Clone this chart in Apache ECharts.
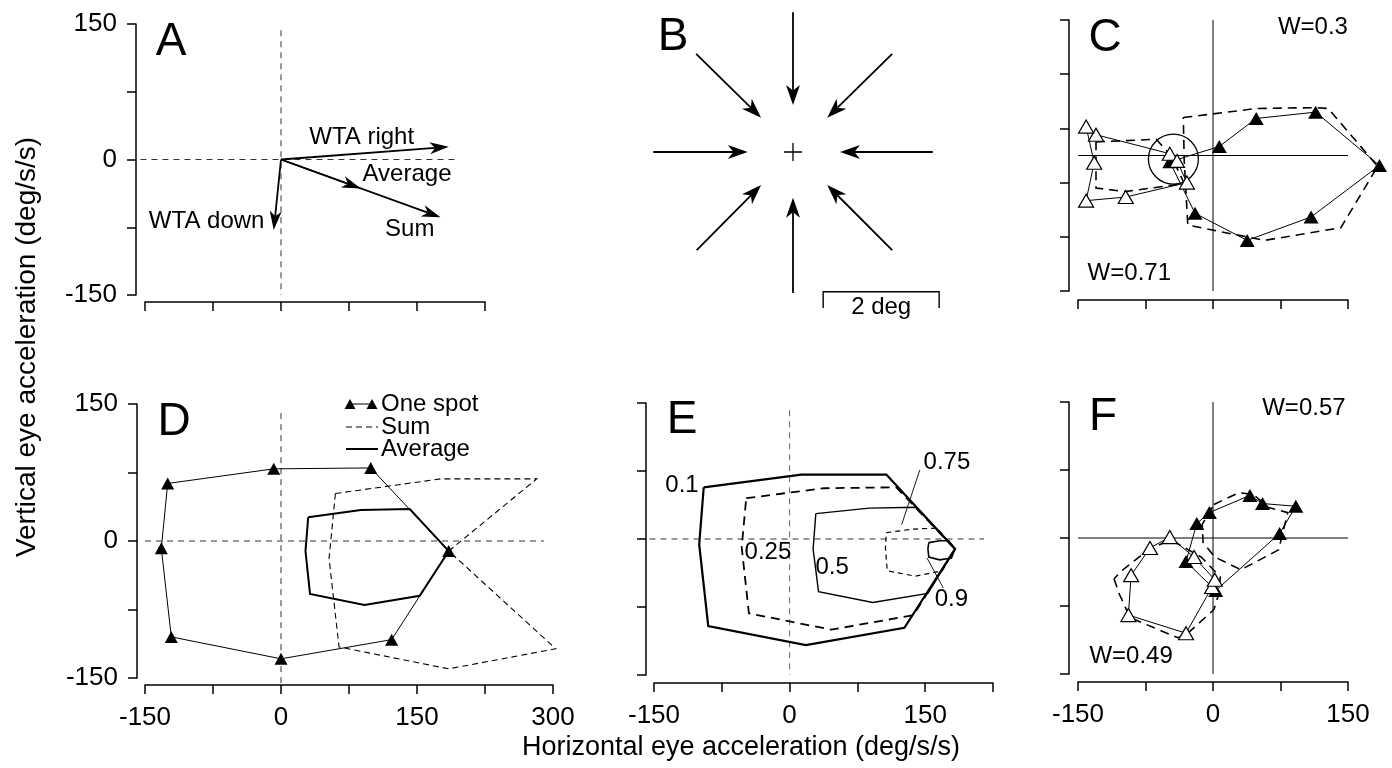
<!DOCTYPE html>
<html>
<head>
<meta charset="utf-8">
<title>Eye acceleration responses to one and two moving spots</title>
<script src="https://cdn.jsdelivr.net/npm/echarts@6.0.0/dist/echarts.min.js"></script>
<style>
html, body { margin: 0; padding: 0; background: #fff; }
#chart { width: 1392px; height: 768px; }
</style>
</head>
<body>
<div id="chart"></div>
<script>
// ---------------- data (deg/s/s unless noted) ----------------

// A: responses to single targets and the two combination rules
const wtaRight = [185, 14];
const wtaDown = [-8, -78];
const sumVector = [176, -64];
const averageVector = [88, -32];

// B: directions of target motion (deg), arrow tails and heads
const stepArrowTails = [[0, 2.41], [1.71, 1.69], [2.41, 0], [1.71, -1.69], [0, -2.43], [-1.66, -1.69], [-2.41, 0], [-1.67, 1.69]];
const stepArrowHeads = [[0, 0.81], [0.59, 0.59], [0.81, 0], [0.59, -0.57], [0, -0.79], [-0.55, -0.57], [-0.78, 0], [-0.55, 0.59]];
const scaleBarDeg = [[0.52, -2.69], [0.52, -2.41], [2.52, -2.41], [2.52, -2.69]];

// C: measured two-spot responses (triangles) and weighted-sum predictions (dashed)
const cFilled = [[-48, -7], [7, 10], [48, 41], [114, 48], [185, -11], [109, -68], [38, -94], [-20, -64]];
const cFilledFit = [[-33, 42], [48, 52], [115, 53], [128, 52], [183, -12], [142, -80], [57, -94], [-28, -77], [-32, -5]];
const cOpen = [[-48, 2], [-130, 23], [-141, 32], [-132, -8], [-141, -50], [-97, -46], [-29, -30], [-40, -6]];
const cOpenFit = [[-130, 15], [-63, 18], [-46, -1], [-32, -31], [-98, -40], [-130, -36], [-130, -27]];
const cCircleCenter = [-44, -4];

// D: one-spot responses and the sum / average predictions
const dOneSpot = [[-125, 63], [-8, 79], [99, 80], [185, -11], [122, -108], [0, -129], [-121, -105], [-132, -8]];
const dSum = [[60, 52], [176, 68], [282, 68], [185, -11], [303, -118], [185, -140], [64, -116], [53, -19]];
const dAverage = [[30, 26], [88, 34], [142, 35], [185, -11], [153, -60], [92, -70], [32, -58], [27, -11]];

// E: weighted-average contours
const eContourLevels = ['0.1', '0.25', '0.5', '0.75', '0.9'];
const eW10 = [[-95, 57], [13, 71], [107, 71], [183, -11], [127, -98], [18, -117], [-90, -96], [-100, -6]];
const eW25 = [[-48, 45], [38, 56], [118, 57], [183, -11], [137, -84], [46, -100], [-45, -82], [-53, -9]];
const eW50 = [[29, 28], [88, 34], [140, 35], [183, -11], [153, -60], [92, -70], [32, -58], [26, -11]];
const eW75 = [[107, 7], [137, 11], [163, 12], [183, -11], [169, -35], [139, -41], [108, -35], [106, -10]];
const eW90 = [[154, -4], [166, -2], [176, -2], [183, -11], [179, -21], [166, -23], [154, -20], [153, -11]];

// F: second example, measured (triangles) and fitted (dashed)
const fFilled = [[-4, 28], [41, 47], [55, 38], [92, 35], [74, 5], [3, -58], [-30, -26], [-18, 16]];
const fFilledFit = [[1, 37], [29, 50], [45, 48], [61, 34], [83, 28], [73, -13], [31, -35], [2, -21], [-11, -5], [-12, 15]];
const fOpen = [[-48, 1], [-70, -11], [-91, -41], [-94, -85], [-30, -105], [-1, -54], [2, -46], [-21, -21]];
const fOpenFit = [[-110, -45], [-104, -62], [-92, -88], [-39, -110], [-28, -105], [1, -79], [7, -60], [8, -43], [-13, -21], [-47, -2], [-72, -13], [-100, -35]];

// text annotations: [text, x, y] in each panel's data units
const notesA = [['WTA right', 89, 25], ['Average', 139, -17], ['Sum', 142, -77], ['WTA down', -82, -68]];
const notesB = [['2 deg', 1.52, -2.68]];
const notesC = [['W=0.3', 111, 142], ['W=0.71', -93, -131]];
const notesE = [[eContourLevels[0], -119, 59], [eContourLevels[1], -24, -15], [eContourLevels[2], 47, -31], [eContourLevels[3], 174, 84], [eContourLevels[4], 179, -67]];
const leadersE = [[[144, 76], [124, 16]], [[152, -21], [170, -54]]];
const notesF = [['W=0.57', 101, 143], ['W=0.49', -91, -131]];

// ---------------- drawing helpers ----------------
const FONT = '"Liberation Sans", Arial, Helvetica, sans-serif';
const INK = '#000';

const gridBoxes = [
  { left: 145, top: 24, width: 340, height: 271 },   // A
  { left: 648, top: 7, width: 290, height: 319 },    // B
  { left: 1078, top: 20, width: 270, height: 271 },  // C
  { left: 145, top: 404, width: 408, height: 274 },  // D
  { left: 654, top: 403, width: 339, height: 272 },  // E
  { left: 1078, top: 402, width: 270, height: 272 }  // F
];

function every150(v) { return Math.round(v) % 150 === 0 ? String(v) : ''; }

function xAxisFor(gi, min, max, offset, withLabels) {
  return {
    type: 'value', gridIndex: gi, min: min, max: max, interval: 75, offset: offset,
    axisLine: { show: true, onZero: false, lineStyle: { color: INK, width: 1.5 } },
    axisTick: { show: true, inside: false, length: 9, lineStyle: { color: INK, width: 1.5 } },
    axisLabel: { show: withLabels, formatter: every150, margin: 20, color: INK, fontSize: 26, fontFamily: FONT,
      showMinLabel: true, showMaxLabel: true },
    splitLine: { show: false }
  };
}

function yAxisFor(gi, offset, withLabels, tickValues) {
  const ax = {
    type: 'value', gridIndex: gi, min: -150, max: 150, interval: 75, offset: offset,
    axisLine: { show: true, onZero: false, lineStyle: { color: INK, width: 1.5 } },
    axisTick: { show: true, inside: false, length: 9, lineStyle: { color: INK, width: 1.5 } },
    axisLabel: { show: withLabels, formatter: every150, margin: 19, color: INK, fontSize: 26, fontFamily: FONT,
      showMinLabel: true, showMaxLabel: true },
    splitLine: { show: false }
  };
  if (tickValues) ax.axisTick.customValues = tickValues;
  return ax;
}

function hiddenAxis(gi, min, max) {
  return { type: 'value', gridIndex: gi, min: min, max: max, show: false, splitLine: { show: false } };
}

// open or closed polyline through data points; not clipped to the plot box
function path(gi, pts, lineStyle, closed, z) {
  const ring = closed ? pts.concat([pts[0]]) : pts.slice();
  const st = Object.assign({ color: INK, width: 1 }, lineStyle);
  return {
    type: 'custom', xAxisIndex: gi, yAxisIndex: gi, clip: false, silent: true, z: z || 2,
    encode: { x: 0, y: 1 },
    data: ring,
    renderItem: function (params, api) {
      if (params.dataIndex !== 0) return null;
      return {
        type: 'polyline',
        shape: { points: ring.map(p => api.coord(p)) },
        style: { stroke: st.color, lineWidth: st.width, lineDash: st.type || null, fill: null, lineJoin: 'miter' }
      };
    }
  };
}

function triangles(gi, pts, filled, size) {
  return {
    type: 'scatter', xAxisIndex: gi, yAxisIndex: gi, data: pts, symbol: 'triangle',
    symbolSize: size, clip: false, silent: true, z: filled ? 5 : 6,
    itemStyle: filled ? { color: INK, opacity: 1 } : { color: '#fff', borderColor: INK, borderWidth: 1.2, opacity: 1 }
  };
}

function notes(gi, items, fontSize) {
  return {
    type: 'scatter', xAxisIndex: gi, yAxisIndex: gi, symbolSize: 1, clip: false, silent: true, z: 8,
    itemStyle: { color: 'transparent', opacity: 1 },
    data: items.map(t => ({ name: t[0], value: [t[1], t[2]] })),
    label: { show: true, position: 'inside', formatter: '{b}', color: INK, opacity: 1, fontSize: fontSize, fontFamily: FONT }
  };
}

// straight arrows with a notched, filled head ending exactly at the head point
function arrows(gi, tails, heads, headLen, headHalf, width) {
  return {
    type: 'custom', xAxisIndex: gi, yAxisIndex: gi, clip: false, silent: true, z: 4,
    encode: { x: [0, 2], y: [1, 3] },
    data: tails.map((t, i) => [t[0], t[1], heads[i][0], heads[i][1]]),
    renderItem: function (params, api) {
      const p0 = api.coord([api.value(0), api.value(1)]);
      const p1 = api.coord([api.value(2), api.value(3)]);
      const dx = p1[0] - p0[0], dy = p1[1] - p0[1];
      const len = Math.hypot(dx, dy);
      const ux = dx / len, uy = dy / len, nx = -uy, ny = ux;
      const bx = p1[0] - ux * headLen, by = p1[1] - uy * headLen;
      const notch = [p1[0] - ux * headLen * 0.72, p1[1] - uy * headLen * 0.72];
      return {
        type: 'group', children: [
          { type: 'line', shape: { x1: p0[0], y1: p0[1], x2: notch[0], y2: notch[1] },
            style: { stroke: INK, lineWidth: width } },
          { type: 'polygon', shape: { points: [p1, [bx + nx * headHalf, by + ny * headHalf], notch, [bx - nx * headHalf, by - ny * headHalf]] },
            style: { fill: INK } }
        ]
      };
    }
  };
}

const zeroDash = { color: '#333', width: 1, type: [6, 5] };
const thin = { color: INK, width: 1 };

// ---------------- series ----------------
const series = [
  // A
  path(0, [[-155, 0], [194, 0]], zeroDash),
  path(0, [[0, 143], [0, -150]], zeroDash),
  arrows(0, [[0, 0], [0, 0], [0, 0], [0, 0]], [wtaRight, wtaDown, sumVector, averageVector], 19, 6, 1.8),
  notes(0, notesA, 24),

  // B
  arrows(1, stepArrowTails, stepArrowHeads, 20, 7, 1.8),
  {
    type: 'scatter', xAxisIndex: 1, yAxisIndex: 1, data: [[0, 0]], symbol: 'path://M0,10L20,10M10,0L10,20',
    symbolSize: 18, silent: true, itemStyle: { color: 'none', borderColor: INK, borderWidth: 1.3, opacity: 1 }
  },
  path(1, scaleBarDeg, { color: INK, width: 1.4 }),
  notes(1, notesB, 24),

  // C
  path(2, [[0, -150], [0, 150]], thin),
  path(2, [[-150, 0], [150, 0]], thin),
  path(2, cFilledFit, { width: 1.6, type: [9, 6] }, true),
  path(2, cOpenFit, { width: 1.6, type: [9, 6] }, true),
  path(2, cFilled, thin, true, 3),
  path(2, cOpen, thin, true, 3),
  {
    type: 'scatter', xAxisIndex: 2, yAxisIndex: 2, data: [cCircleCenter], symbol: 'circle', symbolSize: 50,
    silent: true, z: 4, itemStyle: { color: 'none', borderColor: INK, borderWidth: 1.3, opacity: 1 }
  },
  triangles(2, cFilled, true, [15, 13]),
  triangles(2, cOpen, false, [15, 13]),
  notes(2, notesC, 24),

  // D
  path(3, [[-150, 0], [290, 0]], zeroDash),
  path(3, [[0, 140], [0, -158]], zeroDash),
  path(3, dSum, { width: 1.1, type: [6, 4] }, true),
  path(3, dAverage, { width: 2 }, true),
  path(3, dOneSpot, thin, true, 3),
  triangles(3, dOneSpot, true, [13, 12]),

  // E
  path(4, [[-155, 0], [215, 0]], zeroDash),
  path(4, [[0, 142], [0, -150]], { color: '#666', width: 1, type: [6, 5] }),
  path(4, eW10, { width: 2.2 }, true, 4),
  path(4, eW25, { width: 1.8, type: [9, 6] }, true),
  path(4, eW50, { width: 1.4 }, true),
  path(4, eW75, { width: 1.2, type: [5, 4] }, true),
  path(4, eW90, { width: 1.6 }, true),
  path(4, leadersE[0], { width: 0.9 }),
  path(4, leadersE[1], { width: 0.9 }),
  notes(4, notesE, 24),

  // F
  path(5, [[0, -150], [0, 150]], thin),
  path(5, [[-150, 0], [150, 0]], thin),
  path(5, fFilledFit, { width: 1.6, type: [9, 6] }, true),
  path(5, fOpenFit, { width: 1.6, type: [9, 6] }, true),
  path(5, fFilled, thin, true, 3),
  path(5, fOpen, thin, true, 3),
  triangles(5, fFilled, true, [15, 13]),
  triangles(5, fOpen, false, [15, 13]),
  notes(5, notesF, 24)
];

// ---------------- static text: panel letters, axis titles, legend ----------------
function txt(text, x, y, size, align, extra) {
  return Object.assign({
    type: 'text', x: x, y: y, silent: true, z: 20,
    style: {
      text: text, font: size + 'px ' + FONT, fill: INK,
      textAlign: align || 'center', align: align || 'center',
      textVerticalAlign: 'middle', verticalAlign: 'middle'
    }
  }, extra || {});
}

const legendRows = [404, 427, 449];
const legendX0 = 346, legendX1 = 378;
function tri(cx, cy, w, h) {
  return { type: 'polygon', silent: true, z: 20, shape: { points: [[cx, cy - h / 2], [cx + w / 2, cy + h / 2], [cx - w / 2, cy + h / 2]] }, style: { fill: INK } };
}

const graphics = [
  txt('A', 171, 42, 46), txt('B', 673, 37, 46), txt('C', 1105, 38, 46),
  txt('D', 174, 422, 46), txt('E', 682, 420, 46), txt('F', 1103, 417, 46),
  txt('Horizontal eye acceleration (deg/s/s)', 741, 748, 27),
  txt('Vertical eye acceleration (deg/s/s)', 27, 347, 28, 'center', { rotation: Math.PI / 2 }),
  // legend of panel D
  { type: 'line', silent: true, z: 20, shape: { x1: 350, y1: legendRows[0], x2: 372, y2: legendRows[0] }, style: { stroke: INK, lineWidth: 1 } },
  tri(350, legendRows[0], 11, 10), tri(372, legendRows[0], 11, 10),
  { type: 'line', silent: true, z: 20, shape: { x1: legendX0, y1: legendRows[1], x2: legendX1, y2: legendRows[1] }, style: { stroke: INK, lineWidth: 1.1, lineDash: [6, 4] } },
  { type: 'line', silent: true, z: 20, shape: { x1: legendX0, y1: legendRows[2], x2: legendX1, y2: legendRows[2] }, style: { stroke: INK, lineWidth: 2 } },
  txt('One spot', 381, legendRows[0], 24, 'left'),
  txt('Sum', 381, legendRows[1], 24, 'left'),
  txt('Average', 381, legendRows[2], 24, 'left')
];

const chart = echarts.init(document.getElementById('chart'), null, { renderer: 'canvas' });
chart.setOption({
  animation: false,
  backgroundColor: '#fff',
  grid: gridBoxes.map(g => Object.assign({ containLabel: false, outerBoundsMode: 'none' }, g)),
  xAxis: [
    xAxisFor(0, -150, 225, 7, false),
    hiddenAxis(1, -2.5, 2.5),
    xAxisFor(2, -150, 150, 9, false),
    xAxisFor(3, -150, 300, 7, true),
    xAxisFor(4, -150, 225, 8, true),
    xAxisFor(5, -150, 150, 8, true)
  ],
  yAxis: [
    yAxisFor(0, 9, true),
    hiddenAxis(1, -3, 2.5),
    yAxisFor(2, 9, false, [-150, -90, -30, 30, 90, 150]),
    yAxisFor(3, 8, true),
    yAxisFor(4, 8, false),
    yAxisFor(5, 9, false)
  ],
  series: series,
  graphic: graphics
});
</script>
</body>
</html>
